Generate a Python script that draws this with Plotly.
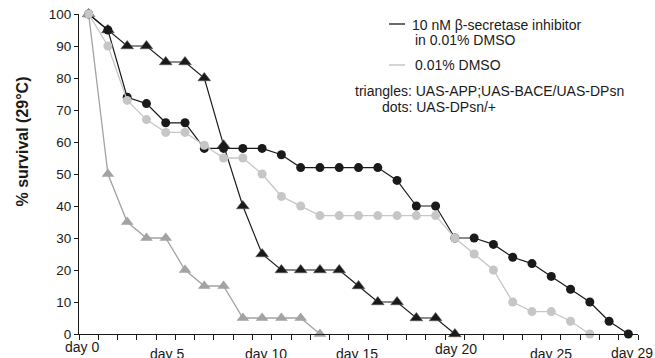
import plotly.graph_objects as go

# Days at which survival was scored (category axis)
days = [0, 2, 3, 4, 5, 6, 7, 8, 9, 10, 11, 12, 13, 14, 15, 16, 17, 18, 19, 20,
        21, 22, 23, 24, 25, 26, 27, 28, 29]

# triangles: UAS-APP;UAS-BACE/UAS-DPsn
tri_inhib = [100, 95, 90, 90, 85, 85, 80, 59, 40, 25, 20, 20, 20, 20, 15, 10, 10, 5, 5, 0]
tri_dmso = [100, 50, 35, 30, 30, 20, 15, 15, 5, 5, 5, 5, 0]
# dots: UAS-DPsn/+
dot_inhib = [100, 95, 74, 72, 66, 66, 58, 58, 58, 58, 56, 52, 52, 52, 52, 52, 48, 40, 40,
             30, 30, 28, 24, 22, 18, 14, 10, 4, 0]
dot_dmso = [100, 90, 73, 67, 63, 63, 59, 55, 55, 50, 43, 40, 37, 37, 37, 37, 37, 37, 37,
            30, 25, 20, 10, 7, 7, 4, 0]

label_days = [0, 5, 10, 15, 20, 25, 29]
y_ticks = [0, 10, 20, 30, 40, 50, 60, 70, 80, 90, 100]

# style-only nudges for the hand-placed day labels
label_dx = [-0.36, 0.09, 0.22, -0.06, 0.07, -0.01, 0.17]
label_dy = [-4, -10.5, -10.5, -10.5, -5.5, -10.5, -9.5]

BLACK = "#1a1a1a"
GRAY_T = "#a3a3a3"
GRAY_D = "#c6c6c6"
FONT = "Liberation Sans, Arial, Helvetica, sans-serif"

idx = list(range(len(days)))

fig = go.Figure()
fig.add_trace(go.Scatter(x=idx[:len(tri_inhib)], y=tri_inhib, mode="lines+markers",
                         line=dict(color=BLACK, width=1.2),
                         marker=dict(symbol="triangle-up", size=11, color=BLACK,
                                     line=dict(color="#555", width=0.6)),
                         cliponaxis=False, showlegend=False))
fig.add_trace(go.Scatter(x=idx[:len(tri_dmso)], y=tri_dmso, mode="lines+markers",
                         line=dict(color=GRAY_T, width=1.3),
                         marker=dict(symbol="triangle-up", size=11, color=GRAY_T,
                                     line=dict(width=0)),
                         cliponaxis=False, showlegend=False))
fig.add_trace(go.Scatter(x=idx[:len(dot_inhib)], y=dot_inhib, mode="lines+markers",
                         line=dict(color=BLACK, width=1.2),
                         marker=dict(symbol="circle", size=9, color=BLACK, line=dict(width=0)),
                         cliponaxis=False, showlegend=False))
fig.add_trace(go.Scatter(x=idx[:len(dot_dmso)], y=dot_dmso, mode="lines+markers",
                         line=dict(color=GRAY_D, width=1.3),
                         marker=dict(symbol="circle", size=9, color=GRAY_D, line=dict(width=0)),
                         cliponaxis=False, showlegend=False))

annotations = []
for d, dx, dy in zip(label_days, label_dx, label_dy):
    annotations.append(dict(x=days.index(d) + dx, y=0, xref="x", yref="y", text=f"day {d}",
                            showarrow=False, xanchor="center", yanchor="top", yshift=dy,
                            borderpad=0,
                            font=dict(size=14, color=BLACK, family=FONT)))

L, R, T, B = 79, 17, 14, 24
W, H = 655, 358
pw, ph = W - L - R, H - T - B


def px(x):
    return (x - L) / pw


def py(y):
    return (H - B - y) / ph


# y-axis title
annotations.append(dict(x=px(22), y=py(141.5), xref="paper", yref="paper",
                        text="<b>% survival (29°C)</b>", textangle=-90, showarrow=False,
                        xanchor="center", yanchor="middle",
                        font=dict(size=16, color=BLACK, family=FONT)))

legend_text = [
    ("10 nM β-secretase inhibitor", 411, 25),
    ("in 0.01% DMSO", 413.5, 39.5),
    ("0.01% DMSO", 413.5, 65),
    ("triangles: UAS-APP;UAS-BACE/UAS-DPsn", 353.5, 91),
    ("dots: UAS-DPsn/+", 381, 107),
]
for t, x, y in legend_text:
    annotations.append(dict(x=px(x), y=py(y), xref="paper", yref="paper", text=t,
                            showarrow=False, xanchor="left", yanchor="middle", borderpad=0,
                            font=dict(size=14, color=BLACK, family=FONT)))

shapes = [
    dict(type="line", xref="paper", yref="paper", x0=px(389), x1=px(405), y0=py(24), y1=py(24),
         line=dict(color=BLACK, width=1.3)),
    dict(type="line", xref="paper", yref="paper", x0=px(389), x1=px(405), y0=py(65), y1=py(65),
         line=dict(color=GRAY_D, width=1.5)),
]

fig.update_layout(
    width=W, height=H,
    margin=dict(l=L, r=R, t=T, b=B, autoexpand=False),
    paper_bgcolor="white", plot_bgcolor="white",
    font=dict(family=FONT, color=BLACK),
    annotations=annotations, shapes=shapes,
    xaxis=dict(range=[-0.5, len(days) - 0.5], tickmode="array",
               tickvals=[i - 0.5 for i in range(len(days) + 1)],
               showticklabels=False, ticks="outside", ticklen=5, tickcolor=BLACK, tickwidth=1,
               showline=True, linecolor=BLACK, linewidth=1, showgrid=False, zeroline=False),
    yaxis=dict(range=[0, 100], tickmode="array", tickvals=y_ticks,
               ticks="outside", ticklen=4, tickcolor=BLACK, tickwidth=1,
               tickfont=dict(size=13.5, color=BLACK, family=FONT),
               showline=True, linecolor=BLACK, linewidth=1, showgrid=False, zeroline=False),
)

fig.write_html("out.html", config={"displayModeBar": False},
               post_script="document.body.style.margin='0';document.body.style.overflow='hidden';")
